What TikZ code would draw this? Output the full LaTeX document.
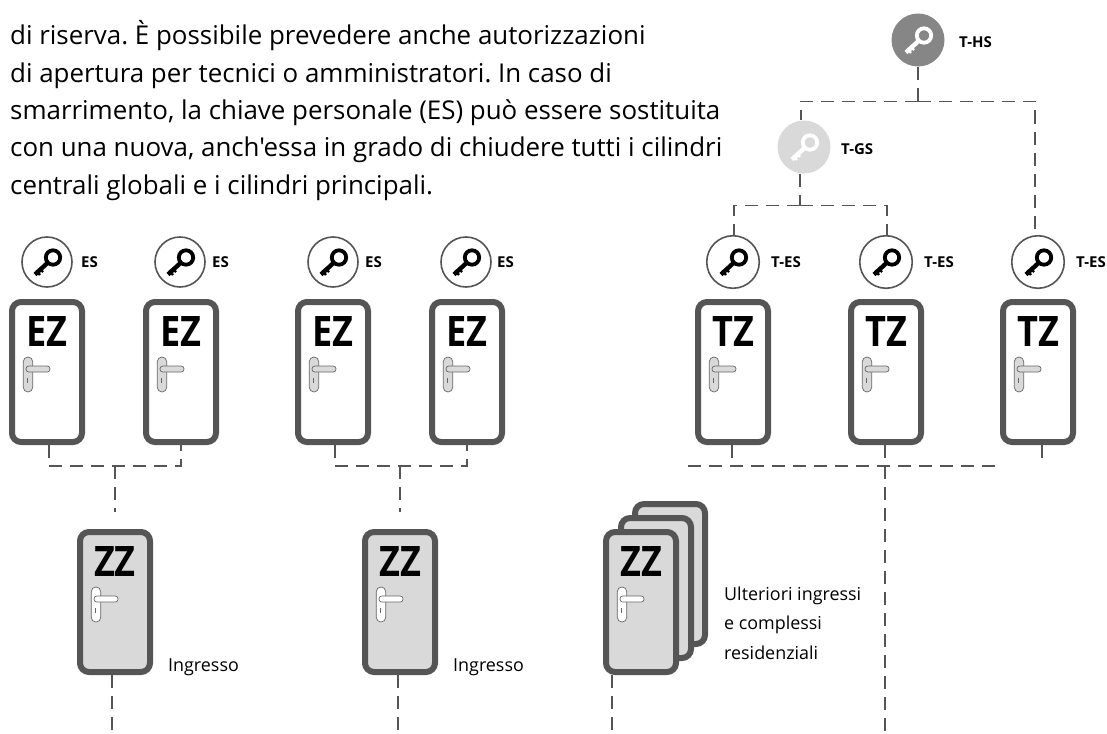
\documentclass[tikz,border=0pt]{standalone}
\usepackage{fontspec}
\usepackage{graphicx}
\setmainfont{Open Sans}
\newfontfamily\plainbody{Open Sans}
\usetikzlibrary{calc}
\definecolor{doorline}{HTML}{555555}
\definecolor{doorfill}{HTML}{D9D9D9}
\definecolor{hsfill}{HTML}{868686}
\definecolor{connline}{HTML}{555555}
\tikzset{
  x=1pt,y=-1pt,
  conn/.style={draw=connline,line width=1.15pt,dash pattern=on 13pt off 8pt},
  doorbox/.style={draw=doorline,line width=6pt,rounded corners=9pt,minimum width=70pt,minimum height=140pt,inner sep=0pt,outer sep=3pt},
  whitedoor/.style={doorbox,fill=white},
  greydoor/.style={doorbox,fill=doorfill},
  keyring/.style={circle,draw=doorline,fill=white,line width=1.6pt,minimum size=50pt,inner sep=0pt},
  tkeyring/.style={keyring,minimum size=52.5pt},
  solidkey/.style={circle,fill=#1,minimum size=53pt,inner sep=0pt},
  keylabel/.style={font=\fontsize{15}{17}\selectfont\bfseries,anchor=west,inner sep=0pt},
  bodytext/.style={font=\plainbody\fontsize{25.9}{37.4}\selectfont\frenchspacing,anchor=west,inner sep=0pt,align=left},
  smalltext/.style={font=\fontsize{17.9}{29.5}\selectfont,anchor=west,inner sep=0pt,align=left},
  doorletters/.style={font=\fontsize{42}{42}\selectfont\bfseries,inner sep=0pt,text=black}
}
% \keyglyph{x}{y}{colour}
\newcommand{\keyglyph}[3]{%
  \begin{scope}[shift={(#1,#2)}]
    \draw[#3,line width=3.8pt] (6,-4.5) circle (7.2);
    \draw[#3,line width=4.4pt] (1,0.5) -- (-12,12.5);
    \draw[#3,line width=2.4pt] (-11,8.5) -- (-7,13);
    \draw[#3,line width=2.4pt] (-8,6) -- (-4,10);
  \end{scope}}
% \doorshape{name}{left}{top}{style}{letters}{handle fill}
\newcommand{\doorshape}[6]{%
  \node[#4] (#1) at (#2+38,#3+73) {};
  \node[doorletters] (#1t) at (#2+38,#3+33) {\scalebox{0.86}[1]{#5}};
  \draw[draw=gray!80!black,fill=#6,line width=.7pt,rounded corners=4.6pt] (#2+14.3,#3+58) rectangle (#2+23.7,#3+93);
  \draw[draw=gray!80!black,fill=#6,line width=.7pt,rounded corners=2.8pt] (#2+17,#3+67) rectangle (#2+41,#3+73);
  \draw[draw=gray!80!black,line width=.7pt] (#2+18.7,#3+79) -- (#2+18.7,#3+84);
}
\begin{document}
\begin{tikzpicture}
\useasboundingbox (0,0) rectangle (1107,733);
\node[bodytext] (para) at (10,110.5) {di riserva. È possibile prevedere anche autorizzazioni\\
di apertura per tecnici o amministratori. In caso di\\
smarrimento, la chiave personale (ES) può essere sostituita\\
con una nuova, anch'essa in grado di chiudere tutti i cilindri\\
centrali globali e i cilindri principali.};
% doors
\doorshape{ea}{9}{299}{whitedoor}{EZ}{doorfill}
\doorshape{eb}{143}{299}{whitedoor}{EZ}{doorfill}
\doorshape{ec}{295}{299}{whitedoor}{EZ}{doorfill}
\doorshape{ed}{429}{299}{whitedoor}{EZ}{doorfill}
\doorshape{ta}{695}{299}{whitedoor}{TZ}{doorfill}
\doorshape{tb}{848}{299}{whitedoor}{TZ}{doorfill}
\doorshape{tc}{1000}{299}{whitedoor}{TZ}{doorfill}
\doorshape{za}{77}{529}{greydoor}{ZZ}{white}
\doorshape{zb}{362}{529}{greydoor}{ZZ}{white}
\node[greydoor] (zs3) at (632+38,501+73) {};
\node[greydoor] (zs2) at (618+38,515+73) {};
\doorshape{zc}{603}{529}{greydoor}{ZZ}{white}
% keys
\node[keyring] (ka) at (47,262) {}; \keyglyph{47}{262}{black}
\node[keyring] (kb) at (180,262) {}; \keyglyph{180}{262}{black}
\node[keyring] (kc) at (333,262) {}; \keyglyph{333}{262}{black}
\node[keyring] (kd) at (466,262) {}; \keyglyph{466}{262}{black}
\node[tkeyring] (ke) at (733,262) {}; \keyglyph{733}{262}{black}
\node[tkeyring] (kf) at (886,262) {}; \keyglyph{886}{262}{black}
\node[tkeyring] (kg) at (1038,262) {}; \keyglyph{1038}{262}{black}
\node[solidkey=hsfill] (khs) at (918,40) {}; \keyglyph{918}{40}{white}
\node[solidkey=doorfill] (kgs) at (804,147) {}; \keyglyph{804}{147}{white}
% key labels
\node[keylabel] (la) at (81,262) {ES};
\node[keylabel] (lb) at (212,262) {ES};
\node[keylabel] (lc) at (365,262) {ES};
\node[keylabel] (ld) at (497,262) {ES};
\node[keylabel] (le) at (771,262) {T-ES};
\node[keylabel] (lf) at (924,262) {T-ES};
\node[keylabel] (lg) at (1076,262) {T-ES};
\node[keylabel] (lhs) at (959,42) {T-HS};
\node[keylabel] (lgs) at (841,149) {T-GS};
% door captions
\node[smalltext] (ia) at (168,667) {Ingresso};
\node[smalltext] (ib) at (453,667) {Ingresso};
\node[smalltext] (ic) at (724,623) {Ulteriori ingressi\\e complessi\\residenziali};
% junction coordinates
\coordinate (ja) at (49,466); \coordinate (jb) at (181,466); \coordinate (jc) at (115,466);
\coordinate (jd) at (335,466); \coordinate (je) at (467,466); \coordinate (jf) at (400,466);
\coordinate (jh) at (115,512); \coordinate (ji) at (400,512);
\coordinate (za0) at (112,733); \coordinate (zb0) at (398,733); \coordinate (zc0) at (612,733);
\coordinate (tl) at (688,466); \coordinate (tr) at (996,466);
\coordinate (ta0) at (732,466); \coordinate (tb0) at (885,733); \coordinate (tc0) at (1042,466);
\coordinate (hl) at (801,101.5); \coordinate (hm) at (918,101.5); \coordinate (hr) at (1035,101.5);
\coordinate (gl) at (734,205.5); \coordinate (gm) at (800,205.5); \coordinate (gr) at (887,205.5);
% connectors
\draw[conn] (ja |- ea.south) -- (ja) -- (jb) -- (jb |- eb.south);
\draw[conn] (jc) -- (jh);
\draw[conn] (jd |- ec.south) -- (jd) -- (je) -- (je |- ed.south);
\draw[conn] (jf) -- (ji);
\draw[conn] (za0 |- za.south) -- (za0);
\draw[conn] (zb0 |- zb.south) -- (zb0);
\draw[conn] (zc0 |- zc.south) -- (zc0);
\draw[conn] (tl) -- (tr);
\draw[conn] (ta0 |- ta.south) -- (ta0);
\draw[conn] (tb0 |- tb.south) -- (tb0);
\draw[conn] (tc0 |- tc.south) -- (tc0);
\draw[conn] (hm |- khs.south) -- (hm);
\draw[conn] (hm) -- (hl) -- (hl |- kgs.north);
\draw[conn] (hm) -- (hr) -- (hr |- kg.north);
\draw[conn] (gm |- kgs.south) -- (gm);
\draw[conn] (gm) -- (gl) -- (gl |- ke.north);
\draw[conn] (gm) -- (gr) -- (gr |- kf.north);
\end{tikzpicture}
\end{document}
